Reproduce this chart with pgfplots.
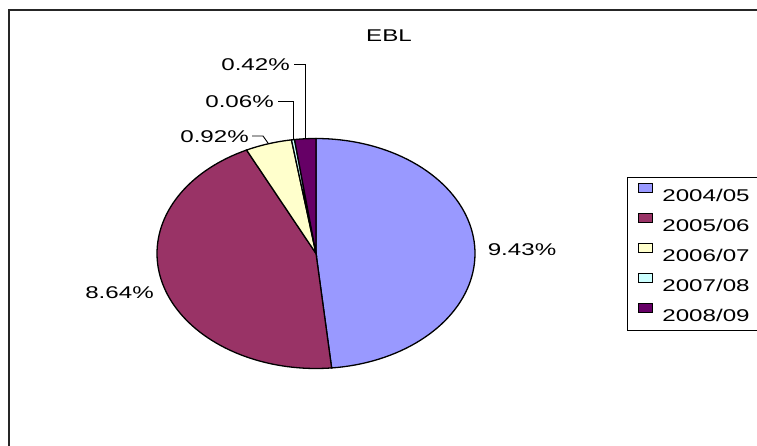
\documentclass[border=0pt]{standalone}
\usepackage{fontspec}
\setmainfont{Liberation Sans}[FakeStretch=1.42]
\usepackage{pgfplots}
\pgfplotsset{compat=1.18}

% share of each year
\def\vA{9.43}  % 2004/05
\def\vB{8.64}  % 2005/06
\def\vC{0.92}  % 2006/07
\def\vD{0.06}  % 2007/08
\def\vE{0.42}  % 2008/09

% pie geometry (drawing units)
\def\cx{316}
\def\cy{253.5}
\def\rx{159}
\def\ry{115}

\definecolor{cA}{HTML}{9999FF}
\definecolor{cB}{HTML}{993366}
\definecolor{cC}{HTML}{FFFFCC}
\definecolor{cD}{HTML}{CCFFFF}
\definecolor{cE}{HTML}{660066}

\newcommand{\lblfont}{\fontsize{17}{20}\selectfont}

\pgfmathsetmacro\T{\vA+\vB+\vC+\vD+\vE}
\pgfmathsetmacro\aA{0}
\pgfmathsetmacro\aB{\aA+360*\vA/\T}
\pgfmathsetmacro\aC{\aB+360*\vB/\T}
\pgfmathsetmacro\aD{\aC+360*\vC/\T}
\pgfmathsetmacro\aE{\aD+360*\vD/\T}
\pgfmathsetmacro\aF{360}
% middle angles of the three small slices
\pgfmathsetmacro\mC{(\aC+\aD)/2}
\pgfmathsetmacro\mD{(\aD+\aE)/2}
\pgfmathsetmacro\mE{(\aE+\aF)/2}
\pgfmathsetmacro\xC{\cx+\rx*sin(\mC)}
\pgfmathsetmacro\yC{\cy-\ry*cos(\mC)}
\pgfmathsetmacro\xD{\cx+\rx*sin(\mD)}
\pgfmathsetmacro\yD{\cy-\ry*cos(\mD)}
\pgfmathsetmacro\xE{\cx+\rx*sin(\mE)}
\pgfmathsetmacro\yE{\cy-\ry*cos(\mE)}

\begin{document}
\begin{tikzpicture}
\useasboundingbox (0,0) rectangle (757pt,446pt);
\clip (0,0) rectangle (757pt,446pt);
\begin{axis}[
  width=757pt, height=446pt, scale only axis,
  xmin=0, xmax=757, ymin=0, ymax=446,
  y dir=reverse,
  hide axis, clip=false,
  samples=80,
  legend style={
    at={(axis description cs:0.8283,0.6031)}, anchor=north west,
    draw=black, line width=0.9pt, fill=white,
    inner xsep=11pt, inner ysep=5pt,
    column sep=9pt, row sep=7pt,
    nodes={inner sep=0pt, text height=19pt, text depth=4pt, font=\lblfont},
  },
  legend cell align=left,
  legend image code/.code={%
    \draw[#1, line width=0.9pt, draw=black] (0pt,1.4pt) rectangle (14pt,10.4pt);},
  every axis plot/.append style={draw=black, line width=1.3pt},
]
% outer chart frame
\draw[line width=1.6pt, black!85] (axis cs:9,10) rectangle (axis cs:800,480);

\addplot[fill=cA, domain=\aA:\aB] ({\cx+\rx*sin(x)}, {\cy-\ry*cos(x)}) -- (axis cs:\cx,\cy) -- cycle;
\addlegendentry{2004/05}
\addplot[fill=cB, domain=\aB:\aC] ({\cx+\rx*sin(x)}, {\cy-\ry*cos(x)}) -- (axis cs:\cx,\cy) -- cycle;
\addlegendentry{2005/06}
\addplot[fill=cC, domain=\aC:\aD] ({\cx+\rx*sin(x)}, {\cy-\ry*cos(x)}) -- (axis cs:\cx,\cy) -- cycle;
\addlegendentry{2006/07}
\addplot[fill=cD, domain=\aD:\aE] ({\cx+\rx*sin(x)}, {\cy-\ry*cos(x)}) -- (axis cs:\cx,\cy) -- cycle;
\addlegendentry{2007/08}
\addplot[fill=cE, domain=\aE:\aF] ({\cx+\rx*sin(x)}, {\cy-\ry*cos(x)}) -- (axis cs:\cx,\cy) -- cycle;
\addlegendentry{2008/09}

% title
\node[font=\lblfont, inner sep=0pt] at (axis cs:389,35.5) {EBL};

% value labels
\node[font=\lblfont, inner sep=0pt] at (axis cs:522,250) {9.43\%};
\node[font=\lblfont, inner sep=0pt] at (axis cs:119.5,293) {8.64\%};
\node[font=\lblfont, inner sep=0pt, anchor=east] at (axis cs:249,137) {0.92\%};
\node[font=\lblfont, inner sep=0pt, anchor=east] at (axis cs:274,102) {0.06\%};
\node[font=\lblfont, inner sep=0pt, anchor=east] at (axis cs:290,65) {0.42\%};

% leader lines
\draw[line width=0.9pt] (axis cs:252,136) -- (axis cs:263,136) -- (axis cs:\xC,\yC);
\draw[line width=0.9pt] (axis cs:278,101) -- (axis cs:\xD,101) -- (axis cs:\xD,\yD);
\draw[line width=0.9pt] (axis cs:294,64) -- (axis cs:\xE,64) -- (axis cs:\xE,\yE);
\end{axis}
\end{tikzpicture}
\end{document}
